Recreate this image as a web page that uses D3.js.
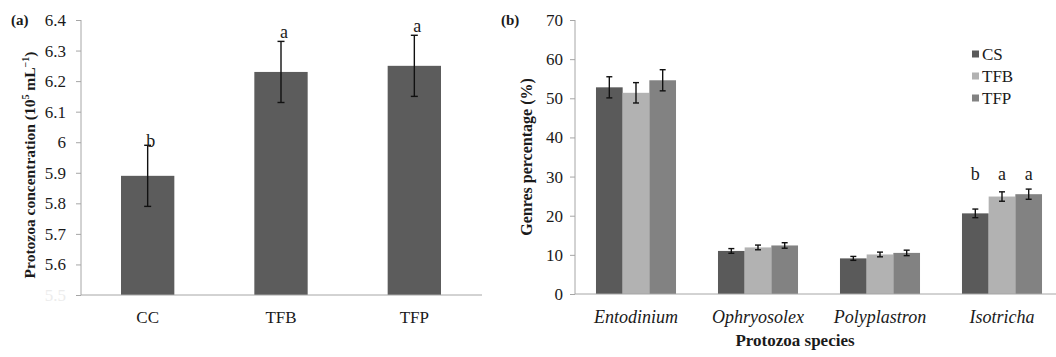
<!DOCTYPE html>
<html>
<head>
<meta charset="utf-8">
<script src="https://cdn.jsdelivr.net/npm/d3@7"></script>
<style>
  body { margin: 0; background: #fff; }
  svg text { fill: #1a1a1a; }
</style>
</head>
<body>
<div id="chart"></div>
<script>
(function () {

  // panel (a): total protozoa
  var treatA = ["CC", "TFB", "TFP"],
    concA = [5.89, 6.23, 6.25],
    errA = [0.1, 0.1, 0.1],
    lettersA = ["b", "a", "a"],
    ticksA = [5.5, 5.6, 5.7, 5.8, 5.9, 6.0, 6.1, 6.2, 6.3, 6.4];

  // panel (b): genera
  var species = ["Entodinium", "Ophryosolex", "Polyplastron", "Isotricha"],
    groups = ["CS", "TFB", "TFP"],
    pctCS = [52.8, 11.0, 9.1, 20.6],
    pctTFB = [51.4, 11.9, 10.1, 24.9],
    pctTFP = [54.6, 12.4, 10.5, 25.5],
    errCS = [2.7, 0.6, 0.5, 1.1],
    errTFB = [2.6, 0.6, 0.6, 1.2],
    errTFP = [2.7, 0.7, 0.7, 1.3],
    lettersB = [null, null, null, ["b", "a", "a"]],
    letterLevelB = 29.2,
    ticksB = [0, 10, 20, 30, 40, 50, 60, 70];

  var w = 1056, h = 357,
    serif = "'Liberation Serif', 'DejaVu Serif', serif",
    axisGray = "#a6a6a6",
    colors = d3.scaleOrdinal().domain(groups).range(["#5a5a5a", "#b2b2b2", "#828282"]);

  var svg = d3.select("#chart").append("svg")
    .attr("width", w)
    .attr("height", h)
    .style("font-family", serif);

  // ---------- panel (a)
  var xA = d3.scaleBand().domain(treatA).range([81, 481]).paddingInner(0.6).paddingOuter(0.3),
    yA = d3.scaleLinear().domain([5.5, 6.4]).range([295, 20]);

  var gA = svg.append("g");

  gA.selectAll(".barA")
    .data(treatA).enter()
    .append("rect")
      .attr("class", "barA")
      .attr("x", function(d) { return xA(d); })
      .attr("width", xA.bandwidth())
      .attr("y", function(d, i) { return yA(concA[i]); })
      .attr("height", function(d, i) { return yA(5.5) - yA(concA[i]); })
      .attr("fill", "#5c5c5c");

  drawErrors(gA, treatA.map(function(d, i) {
    return { x: xA(d) + xA.bandwidth() / 2, lo: yA(concA[i] - errA[i]), hi: yA(concA[i] + errA[i]) };
  }), 3.5);

  gA.selectAll(".letterA")
    .data(treatA).enter()
    .append("text")
      .attr("x", function(d) { return xA(d) + xA.bandwidth() / 2 + 3; })
      .attr("y", function(d, i) { return yA(concA[i] + errA[i]) + (i === 0 ? 2 : -3); })
      .attr("text-anchor", "middle")
      .style("font-size", "18px")
      .text(function(d, i) { return lettersA[i]; });

  var yAxisA = gA.append("g")
    .call(d3.axisLeft(yA).tickValues(ticksA).tickSize(5).tickPadding(10)
      .tickFormat(function(v) { return +v.toFixed(1); }));
  styleAxis(yAxisA);
  yAxisA.select(".domain").attr("d", "M0," + yA(6.4) + "V" + yA(5.5));
  yAxisA.attr("transform", "translate(81,0)");
  yAxisA.selectAll(".tick").filter(function(d) { return d === 5.5; })
    .select("text").style("fill", "#ececec");

  gA.append("line")
    .attr("x1", 81).attr("x2", 482)
    .attr("y1", yA(5.5)).attr("y2", yA(5.5))
    .attr("stroke", axisGray);

  gA.selectAll(".xlabA")
    .data(treatA).enter()
    .append("text")
      .attr("x", function(d) { return xA(d) + xA.bandwidth() / 2; })
      .attr("y", 323)
      .attr("text-anchor", "middle")
      .style("font-size", "17px")
      .text(function(d) { return d; });

  var titleA = gA.append("text")
    .attr("transform", "translate(35,165) rotate(-90)")
    .attr("text-anchor", "middle")
    .style("font-size", "15.5px")
    .style("font-weight", "bold");
  titleA.append("tspan").text("Protozoa concentration (10");
  titleA.append("tspan").attr("dy", -6).style("font-size", "10px").text("5");
  titleA.append("tspan").attr("dy", 6).text(" mL");
  titleA.append("tspan").attr("dy", -6).style("font-size", "10px").text("\u22121");
  titleA.append("tspan").attr("dy", 6).text(")");

  svg.append("text").attr("x", 11).attr("y", 25)
    .style("font-size", "15px").style("font-weight", "bold").text("(a)");

  // ---------- panel (b)
  var pct = [pctCS, pctTFB, pctTFP],
    errs = [errCS, errTFB, errTFP];

  var xB = d3.scaleBand().domain(species).range([575, 1063]).paddingInner(0.344).paddingOuter(0.172),
    xSub = d3.scaleBand().domain(groups).range([0, xB.bandwidth()]),
    yB = d3.scaleLinear().domain([0, 70]).range([294, 20]);

  var rows = [];
  species.forEach(function(s, i) {
    groups.forEach(function(g, j) {
      rows.push({ sp: s, grp: g, v: pct[j][i], e: errs[j][i], letter: lettersB[i] ? lettersB[i][j] : null });
    });
  });

  var gB = svg.append("g");

  gB.selectAll(".barB")
    .data(rows).enter()
    .append("rect")
      .attr("class", "barB")
      .attr("x", function(d) { return xB(d.sp) + xSub(d.grp); })
      .attr("width", xSub.bandwidth())
      .attr("y", function(d) { return yB(d.v); })
      .attr("height", function(d) { return yB(0) - yB(d.v); })
      .attr("fill", function(d) { return colors(d.grp); });

  drawErrors(gB, rows.map(function(d) {
    return { x: xB(d.sp) + xSub(d.grp) + xSub.bandwidth() / 2, lo: yB(d.v - d.e), hi: yB(d.v + d.e) };
  }), 3);

  gB.selectAll(".letterB")
    .data(rows.filter(function(d) { return d.letter; })).enter()
    .append("text")
      .attr("x", function(d) { return xB(d.sp) + xSub(d.grp) + xSub.bandwidth() / 2; })
      .attr("y", yB(letterLevelB))
      .attr("text-anchor", "middle")
      .style("font-size", "18px")
      .text(function(d) { return d.letter; });

  var yAxisB = gB.append("g")
    .attr("transform", "translate(575,0)")
    .call(d3.axisLeft(yB).tickValues(ticksB).tickSize(5).tickPadding(7));
  styleAxis(yAxisB);
  yAxisB.select(".domain").attr("d", "M0," + yB(70) + "V" + yB(0));

  gB.append("line")
    .attr("x1", 575).attr("x2", w)
    .attr("y1", yB(0)).attr("y2", yB(0))
    .attr("stroke", axisGray);

  gB.selectAll(".xlabB")
    .data(species).enter()
    .append("text")
      .attr("x", function(d) { return xB(d) + xB.bandwidth() / 2; })
      .attr("y", 323)
      .attr("text-anchor", "middle")
      .style("font-size", "18px")
      .style("font-style", "italic")
      .text(function(d) { return d; });

  gB.append("text")
    .attr("x", 795).attr("y", 346)
    .attr("text-anchor", "middle")
    .style("font-size", "17px")
    .style("font-weight", "bold")
    .text("Protozoa species");

  gB.append("text")
    .attr("transform", "translate(532,157) rotate(-90)")
    .attr("text-anchor", "middle")
    .style("font-size", "16px")
    .style("font-weight", "bold")
    .text("Genres percentage (%)");

  svg.append("text").attr("x", 501).attr("y", 25)
    .style("font-size", "15px").style("font-weight", "bold").text("(b)");

  // legend
  var legend = gB.selectAll(".legend")
    .data(groups).enter()
    .append("g")
      .attr("class", "legend")
      .attr("transform", function(d, i) { return "translate(972," + (54 + i * 22) + ")"; });
  legend.append("rect")
    .attr("x", 0).attr("y", -3.5)
    .attr("width", 7).attr("height", 7)
    .attr("fill", function(d) { return colors(d); });
  legend.append("text")
    .attr("x", 10).attr("y", 6)
    .style("font-size", "17px")
    .text(function(d) { return d; });

  // d3 axis sets its own sans-serif font on the group, undo that
  function styleAxis(ax) {
    ax.attr("font-family", null).attr("font-size", null);
    ax.selectAll("path, line").attr("stroke", axisGray);
    ax.selectAll("text").attr("fill", "#1a1a1a").style("font-size", "17px");
  }

  // vertical whiskers with caps
  function drawErrors(g, list, cap) {
    var eb = g.selectAll(null).data(list).enter().append("g")
      .attr("stroke", "#111").attr("stroke-width", 1.4);
    eb.append("line")
      .attr("x1", function(d) { return d.x; }).attr("x2", function(d) { return d.x; })
      .attr("y1", function(d) { return d.lo; }).attr("y2", function(d) { return d.hi; });
    eb.append("line")
      .attr("x1", function(d) { return d.x - cap; }).attr("x2", function(d) { return d.x + cap; })
      .attr("y1", function(d) { return d.lo; }).attr("y2", function(d) { return d.lo; });
    eb.append("line")
      .attr("x1", function(d) { return d.x - cap; }).attr("x2", function(d) { return d.x + cap; })
      .attr("y1", function(d) { return d.hi; }).attr("y2", function(d) { return d.hi; });
  }

})();
</script>
</body>
</html>
